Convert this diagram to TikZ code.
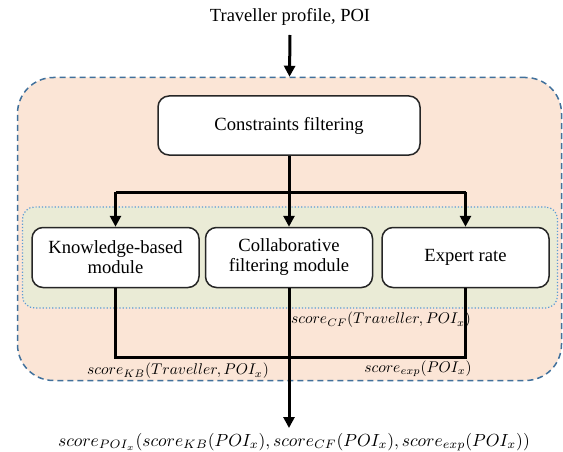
\documentclass[tikz,border=0pt]{standalone}
\usepackage{fontspec}
\setmainfont{Liberation Serif}
\usetikzlibrary{arrows.meta,calc}
\definecolor{peach}{HTML}{FBE5D6}
\definecolor{dashblue}{HTML}{41719C}
\definecolor{greenfill}{HTML}{EAEBD6}
\definecolor{dotblue}{HTML}{5B9BD5}
\tikzset{
  modbox/.style={draw=black!85, line width=1.5pt, rounded corners=11pt, fill=white,
    minimum width=167pt, minimum height=60pt, align=center, inner sep=0pt,
    font=\rmfamily\fontsize{18.6}{20}\selectfont},
  flow/.style={line width=3pt, black},
  flowarrow/.style={flow, -{Triangle[width=11pt,length=11pt]}},
  lbl/.style={inner sep=0pt, scale=1.55},
}
\begin{document}
\begin{tikzpicture}[x=1pt,y=-1pt]
\useasboundingbox (0,0) rectangle (563,452);
% outer dashed region
\node[draw=dashblue, line width=1.5pt, dash pattern=on 6pt off 4pt, fill=peach,
  rounded corners=36pt, minimum width=544pt, minimum height=303pt, inner sep=0pt]
  (outer) at (289.5,229) {};
% green dotted region
\node[draw=dotblue, line width=1.2pt, dotted, fill=greenfill,
  rounded corners=12pt, minimum width=535pt, minimum height=101pt, inner sep=0pt]
  (inner) at (290,257.5) {};
% texts
\node[inner sep=0pt, font=\rmfamily\fontsize{18.5}{20}\selectfont] (in) at (290,17) {Traveller profile, POI};
\node[modbox, minimum width=262pt, minimum height=59pt] (cons) at (289,125.5) {Constraints filtering};
\node[modbox] (kb) at (115.5,257.5) {Knowledge-based\\module};
\node[modbox] (cf) at (289,257.5) {Collaborative\\filtering module};
\node[modbox] (exp) at (465.5,257.5) {Expert rate};
\node[inner sep=0pt, scale=1.75] (out) at (294,442)
  {$score_{POI_x}(score_{KB}(POI_x), score_{CF}(POI_x), score_{exp}(POI_x))$};
% connectors
\draw[flowarrow] (in.south |- 0,35) -- (outer.north);
\coordinate (split) at (cons.south |- 0,192);
\coordinate (join) at (cf.south |- 0,357);
\draw[flow] (cons.south) -- (split);
\draw[flow] (kb.north |- split) -- (exp.north |- split);
\draw[flowarrow] (kb.north |- split) -- (kb.north);
\draw[flowarrow] (split) -- (cf.north);
\draw[flowarrow] (exp.north |- split) -- (exp.north);
\draw[flow] (kb.south) -- (kb.south |- join) -- (exp.south |- join) -- (exp.south);
\coordinate (outtip) at (cf.south |- 0,428);
\draw[flowarrow] (cf.south) -- (outtip);
% labels
\node[lbl] (lcf) at (381,320) {$score_{CF}(Traveller, POI_x)$};
\node[lbl] (lkb) at (178,371) {$score_{KB}(Traveller, POI_x)$};
\node[lbl] (lexp) at (418,369) {$score_{exp}(POI_x)$};
\end{tikzpicture}
\end{document}
